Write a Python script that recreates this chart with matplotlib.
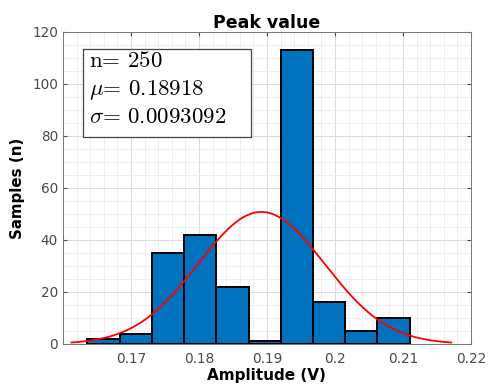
import numpy as np
import matplotlib
matplotlib.use("Agg")
import matplotlib.pyplot as plt
from matplotlib.ticker import MultipleLocator
from matplotlib.patches import Rectangle

# Histogram data
bin_edges = [0.1636, 0.16834, 0.17308, 0.17782, 0.18256, 0.1873,
             0.19204, 0.19678, 0.20152, 0.20626, 0.211]
counts = [2, 4, 35, 42, 22, 1, 113, 16, 5, 10]
n_samples = 250
mu = 0.18918
sigma = 0.0093092
stat_lines = [r'$\mathrm{n}$= 250', r'$\mu$= 0.18918', r'$\sigma$= 0.0093092']

plt.rcParams['mathtext.fontset'] = 'cm'

fig = plt.figure(figsize=(4.88, 3.85), dpi=100)
ax = fig.add_axes([0.129, 0.1065, 0.836, 0.8105])

edges = np.array(bin_edges)
widths = np.diff(edges)
ax.bar(edges[:-1], counts, width=widths, align='edge', color='#0072BD',
       edgecolor='black', linewidth=1.4, zorder=3)

# fitted normal curve (histfit style), scaled to counts
x = np.linspace(mu - 3 * sigma, mu + 3 * sigma, 200)
scale = n_samples * widths.mean()
y = scale * np.exp(-0.5 * ((x - mu) / sigma) ** 2) / (sigma * np.sqrt(2 * np.pi))
ax.plot(x, y, color='red', linewidth=1.3, zorder=4)

ax.set_xlim(0.16, 0.22)
ax.set_ylim(0, 120)
ax.set_xticks([0.17, 0.18, 0.19, 0.2, 0.21, 0.22])
ax.set_xticklabels(['0.17', '0.18', '0.19', '0.2', '0.21', '0.22'])
ax.set_yticks([0, 20, 40, 60, 80, 100, 120])
ax.xaxis.set_minor_locator(MultipleLocator(0.002))
ax.yaxis.set_minor_locator(MultipleLocator(5))

ax.grid(which='major', color='#dadada', linewidth=0.7, zorder=0)
ax.grid(which='minor', color='#ededed', linewidth=0.6, zorder=0)
ax.set_axisbelow(True)
ax.tick_params(which='both', direction='in', top=True, right=True,
               colors='#4a4a4a', labelsize=9.8, length=3)
ax.tick_params(axis='x', pad=6)
ax.tick_params(which='minor', length=0)
for s in ax.spines.values():
    s.set_color('#777777')
    s.set_linewidth(0.7)

ax.set_title('Peak value', fontsize=12.5, fontweight='bold', pad=3)
ax.set_xlabel('Amplitude (V)', fontsize=11, fontweight='bold', labelpad=1)
ax.set_ylabel('Samples (n)', fontsize=10.8, fontweight='bold', labelpad=5)

# stats text box
ax.add_patch(Rectangle((0.049, 0.663), 0.412, 0.2825, transform=ax.transAxes,
                       facecolor='white', edgecolor='#444444', linewidth=0.9,
                       zorder=5))
for i, line in enumerate(stat_lines):
    ax.text(0.064, 0.889 - i * 0.0905, line, transform=ax.transAxes,
            fontsize=16.5, family='cmr10', va='baseline', ha='left', zorder=6)

fig.savefig('out.png', dpi=100)
